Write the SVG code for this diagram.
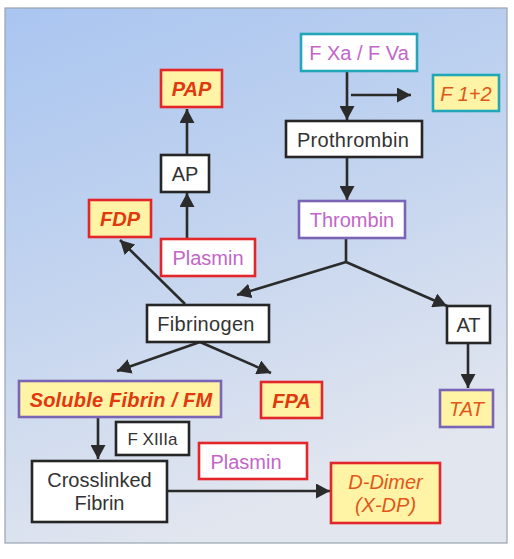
<svg xmlns="http://www.w3.org/2000/svg" width="514" height="559" viewBox="0 0 514 559">
<defs>
<linearGradient id="bg" x1="0" y1="0" x2="0.35" y2="1">
<stop offset="0" stop-color="#a9c5f0"/>
<stop offset="0.5" stop-color="#c3d4ef"/>
<stop offset="1" stop-color="#e2e6ef"/>
</linearGradient>
<marker id="ah" markerUnits="userSpaceOnUse" markerWidth="15" markerHeight="15" refX="14" refY="7.5" orient="auto">
<path d="M0,0 L14,7.5 L0,15 z" fill="#2b2b2b"/>
</marker>
<style>
.n{stroke-width:2.6}
.w{fill:#ffffff}
.y{fill:#fff4a6}
.k{stroke:#262626}
.r{stroke:#e3262a}
.t{stroke:#22a7b8}
.p{stroke:#7a64b4}
text{font-family:"Liberation Sans",Arial,sans-serif;font-size:20px;text-anchor:middle}
.tk{fill:#333333}
.tm{fill:#c266c8}
.tr{fill:#e2380e;font-style:italic;font-weight:bold}
.to{fill:#e2561a;font-style:italic}
.c{fill:none;stroke:#2b2b2b;stroke-width:2.6}
</style>
</defs>
<rect x="0" y="0" width="514" height="559" fill="#ffffff"/>
<rect x="5" y="8" width="502" height="535" fill="url(#bg)" stroke="#9aa3b0" stroke-width="1.2"/>
<g id="connectors">
<path class="c" d="M347,72 L347,120" marker-end="url(#ah)"/>
<path class="c" d="M351,95 L411,95" marker-end="url(#ah)"/>
<path class="c" d="M347,157 L347,200" marker-end="url(#ah)"/>
<path class="c" d="M346,238 L346,262"/>
<path class="c" d="M346,262 L237,295" marker-end="url(#ah)"/>
<path class="c" d="M346,262 L447,306" marker-end="url(#ah)"/>
<path class="c" d="M187,155 L187,109" marker-end="url(#ah)"/>
<path class="c" d="M187,239 L187,193" marker-end="url(#ah)"/>
<path class="c" d="M185,304 L120,240" marker-end="url(#ah)"/>
<path class="c" d="M200,342 L117,371" marker-end="url(#ah)"/>
<path class="c" d="M200,342 L271,373" marker-end="url(#ah)"/>
<path class="c" d="M468,343 L468,388" marker-end="url(#ah)"/>
<path class="c" d="M98,417 L98,459" marker-end="url(#ah)"/>
<path class="c" d="M167,491 L330,491" marker-end="url(#ah)"/>
</g>
<g id="fxa"><rect class="n w t" x="301" y="34" width="116" height="37"/><text class="tm" x="359" y="59.5">F Xa / F Va</text></g>
<g id="f12"><rect class="n y t" x="433" y="75" width="66" height="36"/><text class="to" x="466" y="100.5">F 1+2</text></g>
<g id="pap"><rect class="n y r" x="161" y="70" width="61" height="37"/><text class="tr" x="191.5" y="95.5">PAP</text></g>
<g id="prothrombin"><rect class="n w k" x="286" y="121" width="136" height="36"/><text class="tk" x="353" y="146.5" letter-spacing="0.3">Prothrombin</text></g>
<g id="ap"><rect class="n w k" x="161" y="155" width="48" height="37"/><text class="tk" x="185" y="180.5">AP</text></g>
<g id="fdp"><rect class="n y r" x="89" y="200" width="62" height="37"/><text class="tr" x="120" y="225.5">FDP</text></g>
<g id="thrombin"><rect class="n w p" x="299" y="201" width="106" height="37"/><text class="tm" x="352" y="226.5">Thrombin</text></g>
<g id="plasmin1"><rect class="n w r" x="161" y="239" width="94" height="37"/><text class="tm" x="208" y="264.5">Plasmin</text></g>
<g id="fibrinogen"><rect class="n w k" x="147" y="305" width="122" height="37"/><text class="tk" x="206" y="330.5" letter-spacing="0.3">Fibrinogen</text></g>
<g id="at"><rect class="n w k" x="447" y="306" width="43" height="37"/><text class="tk" x="468.5" y="331.5">AT</text></g>
<g id="soluble"><rect class="n y p" x="19" y="381" width="202" height="36"/><text class="tr" x="121" y="406.5" letter-spacing="0.2">Soluble Fibrin / FM</text></g>
<g id="fpa"><rect class="n y r" x="261" y="382" width="61" height="36"/><text class="tr" x="291.5" y="407.5">FPA</text></g>
<g id="tat"><rect class="n y p" x="440" y="390" width="53" height="37"/><text class="to" x="466.5" y="415.5">TAT</text></g>
<g id="fxiiia"><rect class="n w k" x="116" y="422" width="73" height="33"/><text class="tk" x="152.5" y="445" style="font-size:17px">F XIIIa</text></g>
<g id="plasmin2"><rect class="n w r" x="199" y="443" width="108" height="36"/><text class="tm" x="246" y="468.5">Plasmin</text></g>
<g id="crosslinked"><rect class="n w k" x="32" y="461" width="135" height="61"/><text class="tk" x="99.5" y="487">Crosslinked</text><text class="tk" x="99.5" y="510">Fibrin</text></g>
<g id="ddimer"><rect class="n y r" x="331" y="463" width="109" height="60"/><text class="to" x="385.5" y="489">D-Dimer</text><text class="to" x="385.5" y="512">(X-DP)</text></g>
</svg>
